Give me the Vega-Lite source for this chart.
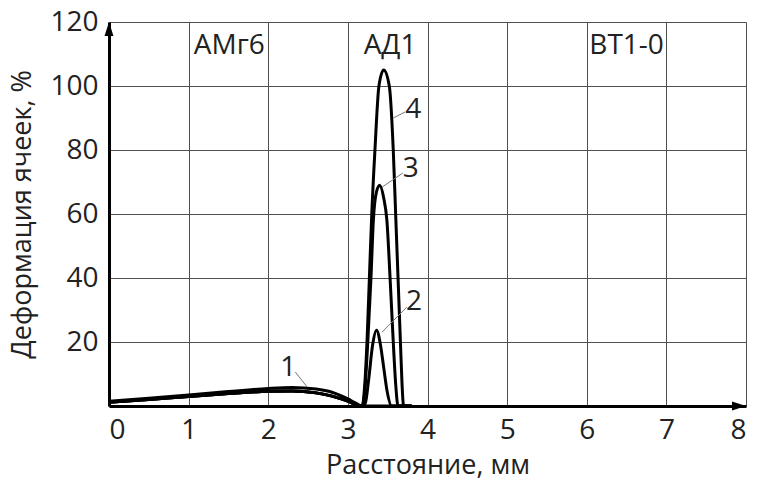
{
  "$schema": "https://vega.github.io/schema/vega-lite/v6.json",
  "autosize": "none",
  "width": 637,
  "height": 384,
  "padding": {"left": 109, "top": 22, "right": 11, "bottom": 75},
  "background": "white",
  "view": {"stroke": null},
  "config": {
    "font": "Open Sans",
    "axis": {
      "labelFont": "Open Sans",
      "labelFontSize": 28,
      "labelColor": "#222",
      "titleFont": "Open Sans",
      "titleFontSize": 27,
      "titleFontWeight": "normal",
      "titleColor": "#222",
      "ticks": false,
      "labelPadding": 10,
      "gridColor": "#505050",
      "gridOpacity": 1,
      "gridWidth": 1,
      "domainColor": "#000",
      "domainWidth": 3
    }
  },
  "datasets": {
    "curves": [
      {"curve": "1", "x": 0, "y": 1.5}, {"curve": "1", "x": 0.5, "y": 2.4}, {"curve": "1", "x": 1, "y": 3.4},
      {"curve": "1", "x": 1.5, "y": 4.5}, {"curve": "1", "x": 2, "y": 5.5}, {"curve": "1", "x": 2.3, "y": 5.8},
      {"curve": "1", "x": 2.6, "y": 5.3}, {"curve": "1", "x": 2.8, "y": 4.3}, {"curve": "1", "x": 3.0, "y": 2.2},
      {"curve": "1", "x": 3.1, "y": 0.9}, {"curve": "1", "x": 3.18, "y": 0}, {"curve": "1", "x": 3.8, "y": 0},

      {"curve": "2", "x": 0, "y": 1.2}, {"curve": "2", "x": 0.5, "y": 2.0}, {"curve": "2", "x": 1, "y": 3.0},
      {"curve": "2", "x": 1.5, "y": 3.9}, {"curve": "2", "x": 2, "y": 4.6}, {"curve": "2", "x": 2.3, "y": 4.7},
      {"curve": "2", "x": 2.6, "y": 4.1}, {"curve": "2", "x": 2.8, "y": 3.1}, {"curve": "2", "x": 3.0, "y": 1.5},
      {"curve": "2", "x": 3.1, "y": 0.5}, {"curve": "2", "x": 3.18, "y": 0}, {"curve": "2", "x": 3.22, "y": 1},
      {"curve": "2", "x": 3.26, "y": 8}, {"curve": "2", "x": 3.31, "y": 19}, {"curve": "2", "x": 3.36, "y": 23.7},
      {"curve": "2", "x": 3.41, "y": 19}, {"curve": "2", "x": 3.45, "y": 12}, {"curve": "2", "x": 3.49, "y": 5},
      {"curve": "2", "x": 3.55, "y": 0}, {"curve": "2", "x": 3.8, "y": 0},

      {"curve": "3", "x": 0, "y": 1.2}, {"curve": "3", "x": 0.5, "y": 2.0}, {"curve": "3", "x": 1, "y": 3.0},
      {"curve": "3", "x": 1.5, "y": 3.9}, {"curve": "3", "x": 2, "y": 4.6}, {"curve": "3", "x": 2.3, "y": 4.7},
      {"curve": "3", "x": 2.6, "y": 4.1}, {"curve": "3", "x": 2.8, "y": 3.1}, {"curve": "3", "x": 3.0, "y": 1.5},
      {"curve": "3", "x": 3.1, "y": 0.5}, {"curve": "3", "x": 3.18, "y": 0}, {"curve": "3", "x": 3.21, "y": 4},
      {"curve": "3", "x": 3.25, "y": 20}, {"curve": "3", "x": 3.29, "y": 40}, {"curve": "3", "x": 3.32, "y": 58},
      {"curve": "3", "x": 3.36, "y": 67}, {"curve": "3", "x": 3.40, "y": 69}, {"curve": "3", "x": 3.45, "y": 65},
      {"curve": "3", "x": 3.49, "y": 58}, {"curve": "3", "x": 3.53, "y": 40}, {"curve": "3", "x": 3.57, "y": 20},
      {"curve": "3", "x": 3.60, "y": 7}, {"curve": "3", "x": 3.63, "y": 0}, {"curve": "3", "x": 3.8, "y": 0},

      {"curve": "4", "x": 0, "y": 1.2}, {"curve": "4", "x": 0.5, "y": 2.0}, {"curve": "4", "x": 1, "y": 3.0},
      {"curve": "4", "x": 1.5, "y": 3.9}, {"curve": "4", "x": 2, "y": 4.6}, {"curve": "4", "x": 2.3, "y": 4.7},
      {"curve": "4", "x": 2.6, "y": 4.1}, {"curve": "4", "x": 2.8, "y": 3.1}, {"curve": "4", "x": 3.0, "y": 1.5},
      {"curve": "4", "x": 3.1, "y": 0.5}, {"curve": "4", "x": 3.18, "y": 0}, {"curve": "4", "x": 3.21, "y": 6},
      {"curve": "4", "x": 3.24, "y": 20}, {"curve": "4", "x": 3.27, "y": 40}, {"curve": "4", "x": 3.30, "y": 60},
      {"curve": "4", "x": 3.34, "y": 80}, {"curve": "4", "x": 3.39, "y": 100}, {"curve": "4", "x": 3.45, "y": 105},
      {"curve": "4", "x": 3.52, "y": 100}, {"curve": "4", "x": 3.57, "y": 80}, {"curve": "4", "x": 3.60, "y": 60},
      {"curve": "4", "x": 3.63, "y": 40}, {"curve": "4", "x": 3.66, "y": 20}, {"curve": "4", "x": 3.68, "y": 7},
      {"curve": "4", "x": 3.70, "y": 0}, {"curve": "4", "x": 3.8, "y": 0}
    ],
    "leaders": [
      {"curve": "1", "x": 2.34, "y": 10.6, "x2": 2.49, "y2": 5.9, "lx": 2.25, "ly": 11.9},
      {"curve": "2", "x": 3.43, "y": 23.1, "x2": 3.74, "y2": 30.9, "lx": 3.83, "ly": 32.5},
      {"curve": "3", "x": 3.43, "y": 68.4, "x2": 3.69, "y2": 72.8, "lx": 3.79, "ly": 74},
      {"curve": "4", "x": 3.57, "y": 90, "x2": 3.72, "y2": 91.9, "lx": 3.82, "ly": 92.5}
    ],
    "alloys": [
      {"name": "АМг6", "x": 1.51, "y": 112.5},
      {"name": "АД1", "x": 3.53, "y": 112.5},
      {"name": "ВТ1-0", "x": 6.5, "y": 112.5}
    ]
  },
  "layer": [
    {
      "data": {"name": "curves"},
      "mark": {"type": "line", "color": "#000", "strokeWidth": 3, "interpolate": "monotone", "clip": true},
      "encoding": {
        "x": {
          "field": "x", "type": "quantitative",
          "scale": {"domain": [0, 8], "nice": false},
          "axis": {"values": [0, 1, 2, 3, 4, 5, 6, 7, 8], "format": "d", "title": "Расстояние, мм", "titlePadding": 8, "grid": true}
        },
        "y": {
          "field": "y", "type": "quantitative",
          "scale": {"domain": [0, 120], "nice": false},
          "axis": {
            "values": [0, 20, 40, 60, 80, 100, 120],
            "format": "d",
            "labelExpr": "datum.value == 0 ? '' : datum.label",
            "labelPadding": 11,
            "title": "Деформация ячеек, %", "titlePadding": 13, "grid": true
          }
        },
        "detail": {"field": "curve"}
      }
    },
    {
      "data": {"name": "leaders"},
      "mark": {"type": "rule", "color": "#777", "strokeWidth": 1},
      "encoding": {
        "x": {"field": "x", "type": "quantitative"},
        "y": {"field": "y", "type": "quantitative"},
        "x2": {"field": "x2"},
        "y2": {"field": "y2"}
      }
    },
    {
      "data": {"name": "leaders"},
      "mark": {"type": "text", "font": "Open Sans", "fontSize": 28, "color": "#222", "align": "center", "baseline": "middle"},
      "encoding": {
        "x": {"field": "lx", "type": "quantitative"},
        "y": {"field": "ly", "type": "quantitative"},
        "text": {"field": "curve"}
      }
    },
    {
      "data": {"name": "alloys"},
      "mark": {"type": "text", "font": "Open Sans", "fontSize": 28, "color": "#222", "align": "center", "baseline": "middle"},
      "encoding": {
        "x": {"field": "x", "type": "quantitative"},
        "y": {"field": "y", "type": "quantitative"},
        "text": {"field": "name"}
      }
    },
    {
      "data": {"values": [{"x": 0, "y": 120}]},
      "mark": {"type": "point", "shape": "M0,0L-0.32,1L0.32,1Z", "filled": true, "color": "#000", "opacity": 1, "size": 784},
      "encoding": {
        "x": {"field": "x", "type": "quantitative"},
        "y": {"field": "y", "type": "quantitative"}
      }
    },
    {
      "data": {"values": [{"x": 8, "y": 0}]},
      "mark": {"type": "point", "shape": "M0,0L-1,-0.32L-1,0.32Z", "filled": true, "color": "#000", "opacity": 1, "size": 784},
      "encoding": {
        "x": {"field": "x", "type": "quantitative"},
        "y": {"field": "y", "type": "quantitative"}
      }
    }
  ]
}
